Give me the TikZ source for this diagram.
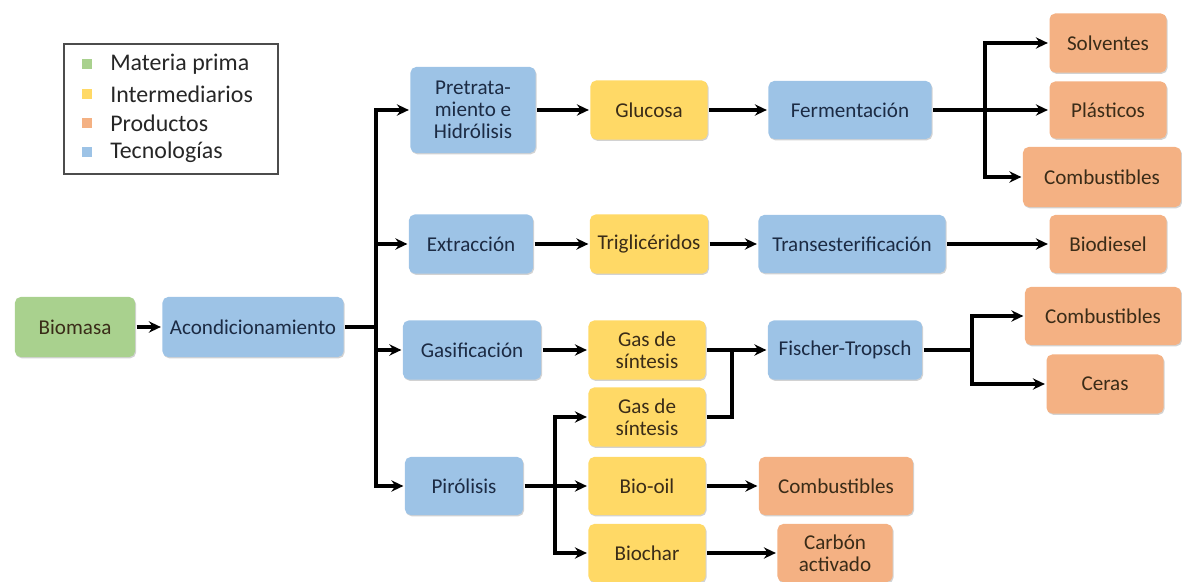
\documentclass[tikz,border=0pt]{standalone}
\usepackage{fontspec}
\setmainfont{Carlito}
\usepackage{tikz}
\usetikzlibrary{arrows.meta, shadows}

\definecolor{tecblue}{HTML}{9DC3E6}
\definecolor{intyellow}{HTML}{FFD966}
\definecolor{prodorange}{HTML}{F4B183}
\definecolor{matgreen}{HTML}{A9D18E}
\definecolor{bluetext}{HTML}{1C2B44}
\definecolor{warmtext}{HTML}{3A2C18}

\begin{document}
\begin{tikzpicture}[
            x = 0.025cm, y = -0.025cm, % pixel grid of the figure
            > = {Stealth[length=8.5pt, width=8pt]}, % arrow head style
            line width = 2.3pt,
            font = \fontsize{15}{15.5}\selectfont
        ]

        \tikzstyle{box}=[
            rounded corners = 4pt,
            minimum height = 1.475cm,
            inner sep = 2pt,
            align = center,
            drop shadow = {shadow xshift=0.7pt, shadow yshift=-0.9pt, opacity=0.25, fill=black!70}
        ]
        \tikzstyle{tec}=[box, fill = tecblue, text = bluetext]
        \tikzstyle{inter}=[box, fill = intyellow, text = warmtext]
        \tikzstyle{prod}=[box, fill = prodorange, text = warmtext]
        \tikzstyle{mat}=[box, fill = matgreen, text = warmtext]
        \tikzstyle{key}=[minimum size = 0.25cm, inner sep = 0pt]

        \useasboundingbox (0,0) rectangle (1182,582);

        % legend
        \node[draw = black!70, line width = 0.8pt, minimum width = 5.35cm, minimum height = 3.25cm] (legend) at (171,109) {};
        \node[key, fill = matgreen] (k1) at (87,64) {};
        \node[key, fill = intyellow] (k2) at (87,94) {};
        \node[key, fill = prodorange] (k3) at (87,123) {};
        \node[key, fill = tecblue] (k4) at (87,152) {};
        \begin{scope}[font = \fontsize{17}{17}\selectfont, text = black!85]
            \node[anchor = west] at (104,64) {Materia prima};
            \node[anchor = west] at (104,94) {Intermediarios};
            \node[anchor = west] at (104,123) {Productos};
            \node[anchor = west] at (104,152) {Tecnologías};
        \end{scope}

        % first column
        \node[mat, minimum width = 3cm, minimum height = 1.5cm] (biomasa) at (75,327) {Biomasa};
        \node[tec, minimum width = 4.525cm, minimum height = 1.5cm] (acond) at (253,327) {Acondicionamiento};

        % technologies
        \node[tec, minimum width = 3.125cm, minimum height = 2.15cm] (pretrat) at (473,110) {Pretrata-\\miento e\\Hidrólisis};
        \node[tec, minimum width = 3.1cm] (extrac) at (471,244) {Extracción};
        \node[tec, minimum width = 3.45cm] (gasif) at (472,350) {Gasificación};
        \node[tec, minimum width = 2.95cm, minimum height = 1.45cm] (pirol) at (464,486) {Pirólisis};

        % intermediates
        \node[inter, minimum width = 2.925cm] (glucosa) at (649,110) {Glucosa};
        \node[inter, minimum width = 2.95cm] (trigli) at (649,244) {Triglicéridos};
        \node[inter, minimum width = 2.925cm] (gas1) at (647,350) {Gas de\\síntesis};
        \node[inter, minimum width = 2.925cm] (gas2) at (647,417) {Gas de\\síntesis};
        \node[inter, minimum width = 2.925cm, minimum height = 1.45cm] (biooil) at (647,486) {Bio-oil};
        \node[inter, minimum width = 2.925cm, minimum height = 1.45cm] (biochar) at (647,553) {Biochar};

        % second technologies
        \node[tec, minimum width = 4.075cm, minimum height = 1.45cm] (ferment) at (850,110) {Fermentación};
        \node[tec, minimum width = 4.675cm, minimum height = 1.45cm] (transest) at (852,244) {Transesterificación};
        \node[tec, minimum width = 3.85cm] (fischer) at (845,350) {Fischer-Tropsch};
        \node[prod, minimum width = 3.85cm, minimum height = 1.45cm] (combbio) at (836,486) {Combustibles};
        \node[prod, minimum width = 2.875cm, minimum height = 1.45cm] (carbon) at (835,553) {Carbón\\activado};

        % products
        \node[prod, minimum width = 2.925cm] (solv) at (1108,43) {Solventes};
        \node[prod, minimum width = 2.925cm, minimum height = 1.425cm] (plast) at (1108,110) {Plásticos};
        \node[prod, minimum width = 3.95cm, minimum height = 1.5cm] (combtop) at (1102,177) {Combustibles};
        \node[prod, minimum width = 2.925cm, minimum height = 1.45cm] (biodiesel) at (1108,244) {Biodiesel};
        \node[prod, minimum width = 3.9cm, minimum height = 1.45cm] (combft) at (1103,316) {Combustibles};
        \node[prod, minimum width = 2.925cm] (ceras) at (1105,384) {Ceras};

        % junction points
        \coordinate (abus) at (376,327);
        \coordinate (fbus) at (985,110);
        \coordinate (gjoin) at (732,350);
        \coordinate (ftbus) at (972,350);
        \coordinate (pbus) at (555,486);

        % connectors
        \draw[->] (biomasa) -- (acond);
        \draw (acond.east) -- (abus);
        \draw[->] (abus) |- (pretrat.west);
        \draw[->] (abus) |- (extrac.west);
        \draw[->] (abus) |- (gasif.west);
        \draw[->] (abus) |- (pirol.west);

        \draw[->] (pretrat) -- (glucosa);
        \draw[->] (glucosa) -- (ferment);
        \draw[->] (ferment) -- (plast);
        \draw[->] (fbus) |- (solv.west);
        \draw[->] (fbus) |- (combtop.west);

        \draw[->] (extrac) -- (trigli);
        \draw[->] (trigli) -- (transest);
        \draw[->] (transest) -- (biodiesel);

        \draw[->] (gasif) -- (gas1);
        \draw[->] (gas1) -- (fischer);
        \draw (gas2.east) -| (gjoin);
        \draw (fischer.east) -- (ftbus);
        \draw[->] (ftbus) |- (combft.west);
        \draw[->] (ftbus) |- (ceras.west);

        \draw[->] (pirol) -- (biooil);
        \draw[->] (pbus) |- (gas2.west);
        \draw[->] (pbus) |- (biochar.west);
        \draw[->] (biooil) -- (combbio);
        \draw[->] (biochar) -- (carbon);

  \end{tikzpicture}
\end{document}
